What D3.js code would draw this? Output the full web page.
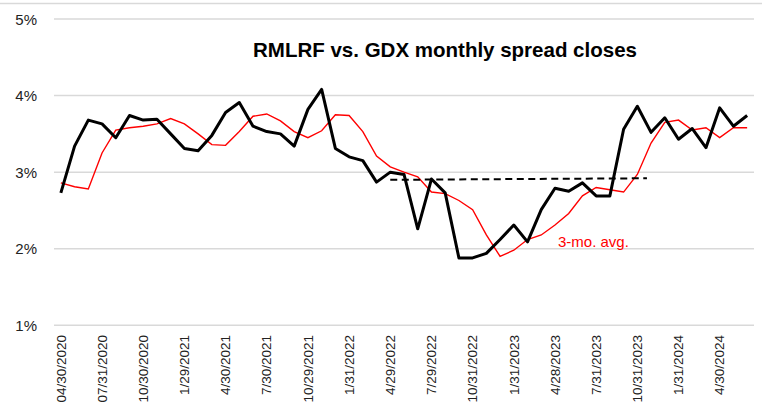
<!DOCTYPE html>
<html>
<head>
<meta charset="utf-8">
<script src="https://cdn.jsdelivr.net/npm/d3@7"></script>
<style>
  body { margin: 0; background: #fff; }
  svg { display: block; font-family: "Liberation Sans", Arial, sans-serif; }
</style>
</head>
<body>
<svg id="chart" width="772" height="410"></svg>
<script>
// Monthly closes, 04/2020 .. 06/2024 (51 months), spread in %
const spread = [2.73, 3.34, 3.68, 3.63, 3.45, 3.74, 3.68, 3.69, 3.50, 3.31,
                3.28, 3.48, 3.78, 3.91, 3.60, 3.53, 3.50, 3.34, 3.82, 4.08,
                3.31, 3.20, 3.15, 2.87, 3.00, 2.97, 2.26, 2.91, 2.73, 1.88,
                1.88, 1.94, 2.12, 2.31, 2.09, 2.51, 2.79, 2.75, 2.86, 2.69,
                2.69, 3.56, 3.86, 3.52, 3.71, 3.43, 3.57, 3.32, 3.84, 3.60, 3.74];

// 3-month average
const avg3 = [2.86, 2.81, 2.78, 3.25, 3.55, 3.58, 3.60, 3.63, 3.70, 3.63,
              3.50, 3.36, 3.35, 3.53, 3.73, 3.76, 3.67, 3.53, 3.45, 3.54,
              3.75, 3.74, 3.53, 3.21, 3.07, 3.00, 2.94, 2.74, 2.72, 2.63,
              2.51, 2.18, 1.90, 1.98, 2.12, 2.18, 2.31, 2.46, 2.69, 2.80,
              2.77, 2.74, 2.97, 3.38, 3.65, 3.68, 3.55, 3.58, 3.45, 3.58, 3.58];

// dashed reference line (month index, %)
const refLine = [{i: 24, v: 2.90}, {i: 42.7, v: 2.92}];

// tick labels every third month
const tickLabels = ["04/30/2020", "07/31/2020", "10/30/2020", "1/29/2021", "4/30/2021",
                    "7/30/2021", "10/29/2021", "1/31/2022", "4/29/2022", "7/29/2022",
                    "10/31/2022", "1/31/2023", "4/28/2023", "7/31/2023", "10/31/2023",
                    "1/31/2024", "4/30/2024"];
const yTicks = [1, 2, 3, 4, 5];

const svg = d3.select("#chart");
const plotL = 54, plotR = 754, plotT = 19, plotB = 325.3;

const x = d3.scaleLinear().domain([-0.5, spread.length - 0.5]).range([plotL, plotR]);
const y = d3.scaleLinear().domain([1, 5]).range([plotB, plotT]);

// top border
svg.append("line")
  .attr("x1", 0).attr("x2", 762).attr("y1", 3.5).attr("y2", 3.5)
  .attr("stroke", "#d9d9d9").attr("stroke-width", 1.5);

// gridlines
svg.append("g").selectAll("line").data(yTicks).enter().append("line")
  .attr("x1", plotL).attr("x2", plotR)
  .attr("y1", d => y(d)).attr("y2", d => y(d))
  .attr("stroke", "#d9d9d9").attr("stroke-width", 1.5);

// y labels
svg.append("g").selectAll("text").data(yTicks).enter().append("text")
  .attr("x", 37).attr("y", d => y(d) + 5.5)
  .attr("text-anchor", "end")
  .attr("font-size", 15).attr("fill", "#222")
  .text(d => d + "%");

// x labels (rotated)
svg.append("g").selectAll("text").data(tickLabels).enter().append("text")
  .attr("transform", (d, k) => `translate(${x(k * 3) + 4.7},335) rotate(-90)`)
  .attr("text-anchor", "end")
  .attr("font-size", 13.5).attr("fill", "#222")
  .text(d => d);

const line = d3.line().x((d, i) => x(i)).y(d => y(d));

svg.append("path").datum(avg3)
  .attr("d", line)
  .attr("fill", "none").attr("stroke", "#ff0000").attr("stroke-width", 1.4);

svg.append("path").datum(spread)
  .attr("d", line)
  .attr("fill", "none").attr("stroke", "#000").attr("stroke-width", 3)
  .attr("stroke-linejoin", "round");

svg.append("path").datum(refLine)
  .attr("d", d3.line().x(d => x(d.i)).y(d => y(d.v)))
  .attr("fill", "none").attr("stroke", "#000").attr("stroke-width", 2)
  .attr("stroke-dasharray", "7,4.5");

// title
svg.append("text")
  .attr("x", 445).attr("y", 57)
  .attr("text-anchor", "middle")
  .attr("font-size", 20.5).attr("font-weight", "bold").attr("fill", "#000")
  .text("RMLRF vs. GDX monthly spread closes");

// annotation
svg.append("text")
  .attr("x", 558).attr("y", 246.5)
  .attr("font-size", 15).attr("fill", "#ff0000")
  .text("3-mo. avg.");
</script>
</body>
</html>
